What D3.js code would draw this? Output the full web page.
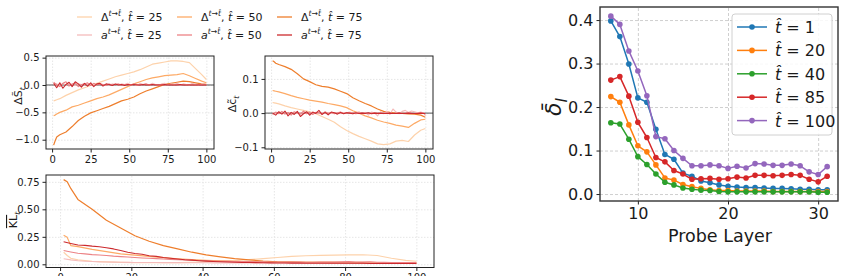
<!DOCTYPE html>
<html lang="en">
<head>
<meta charset="UTF-8" />
<title>Probe layers</title>
<script src="https://cdn.jsdelivr.net/npm/d3@7"></script>
<style>
  body { margin: 0; background: #fff; }
  svg { display: block; font-family: "DejaVu Sans", sans-serif; }
</style>
</head>
<body>
<div id="container"></div>
<script>
// ---- data ----
const stepsD = [1,2,3,5,9,13,17,21,25,29,33,37,41,45,49,53,57,61,65,69,73,77,81,85,89,93,97,100]
const stepsA = [1,3,5,7,9,11,13,15,17,19,21,23,25,27,29,31,33,35,37,39,41,43,45,47,49,
                51,53,55,57,59,61,63,65,67,69,71,73,75,77,79,81,83,85,87,89,91,93,95,97,99,100]

// delta S
const dS_D25 = [-0.29,-0.28,-0.27,-0.25,-0.19,-0.14,-0.09,-0.05,-0.01,0.03,0.07,0.11,0.15,0.18,0.21,0.24,0.28,0.33,0.38,0.40,0.42,0.44,0.44,0.43,0.41,0.30,0.19,0.10]
const dS_D50 = [-0.56,-0.55,-0.53,-0.50,-0.46,-0.40,-0.37,-0.33,-0.29,-0.25,-0.22,-0.18,-0.13,-0.08,-0.03,0.02,0.06,0.10,0.13,0.15,0.17,0.18,0.19,0.21,0.17,0.12,0.07,0.04]
const dS_D75 = [-1.10,-1.02,-0.95,-0.91,-0.86,-0.76,-0.65,-0.57,-0.51,-0.47,-0.43,-0.39,-0.34,-0.29,-0.26,-0.22,-0.16,-0.11,-0.07,-0.03,0.01,0.03,0.05,0.07,0.06,0.04,0.02,0.01]
const dS_A25 = [0.01,0.02,-0.01,0.03,0.00,0.02,0.01,-0.01,0.02,0.01,
                0.00,0.02,0.01,0.00,0.01,0.02,0.00,0.01,0.00,0.02,
                0.01,0.00,0.02,0.01,0.03,0.00,0.02,-0.01,0.03,0.01,
                0.02,0.00,0.03,0.01,-0.01,0.02,0.03,0.00,0.02,0.01,
                0.03,0.00,0.02,0.01,0.00,0.03,0.01,0.00,0.02,0.01,0.01]
const dS_A50 = [0.05,0.00,-0.03,0.03,0.06,-0.02,0.02,0.04,-0.03,0.01,
                0.02,0.04,-0.01,0.03,0.00,0.02,0.01,-0.01,0.02,0.00,
                0.01,0.02,0.00,0.01,0.01,0.00,0.02,0.01,0.00,0.01,
                0.02,0.00,0.01,0.01,0.00,0.01,0.00,0.01,0.01,0.00,
                0.01,0.00,0.01,0.00,0.01,0.00,0.00,0.01,0.00,0.01,0.00]
const dS_A75 = [0.03,-0.05,0.04,-0.06,0.01,0.05,-0.03,0.06,0.02,-0.04,
                0.03,-0.02,0.04,-0.03,0.02,0.03,-0.02,0.02,0.01,-0.01,
                0.02,0.00,0.01,-0.01,0.01,0.00,0.01,0.00,0.00,0.01,
                0.00,0.00,0.01,0.00,0.00,0.00,0.01,0.00,0.00,0.00,
                0.00,0.01,0.00,0.00,0.00,0.00,0.00,0.00,0.00,0.00,0.00]

// delta c
const dC_D25 = [0.031,0.030,0.029,0.027,0.021,0.016,0.012,0.008,0.004,-0.002,-0.010,-0.018,-0.027,-0.040,-0.051,-0.060,-0.068,-0.075,-0.082,-0.090,-0.092,-0.090,-0.082,-0.080,-0.083,-0.064,-0.050,-0.045]
const dC_D50 = [0.066,0.065,0.064,0.062,0.057,0.051,0.046,0.042,0.038,0.035,0.032,0.028,0.025,0.021,0.016,0.007,0.000,-0.008,-0.014,-0.021,-0.026,-0.030,-0.035,-0.038,-0.042,-0.030,-0.020,-0.018]
const dC_D75 = [0.153,0.150,0.146,0.142,0.136,0.128,0.115,0.100,0.092,0.083,0.078,0.076,0.071,0.064,0.057,0.045,0.036,0.028,0.021,0.012,0.005,0.002,0.000,-0.001,-0.002,-0.003,-0.006,-0.012]
const dC_A25 = [0.002,-0.001,0.001,0.000,-0.002,0.001,0.000,0.002,-0.001,0.000,
                0.001,-0.001,0.002,0.000,0.001,-0.002,0.001,0.000,0.002,-0.001,
                0.000,0.001,-0.001,0.002,0.000,0.003,-0.002,0.001,0.004,-0.003,
                0.002,-0.006,0.003,0.001,-0.008,0.004,-0.002,0.006,-0.004,0.012,
                0.003,-0.002,0.005,0.008,0.002,0.006,0.004,0.001,0.003,0.000,-0.008]
const dC_A50 = [-0.004,0.003,-0.002,0.005,-0.003,0.002,-0.006,0.004,0.000,-0.003,
                0.006,-0.002,0.003,-0.004,0.002,0.001,-0.003,0.004,-0.001,0.002,
                -0.002,0.001,0.003,-0.001,0.002,0.000,0.001,-0.002,0.001,0.000,
                0.001,-0.001,0.000,0.001,0.000,-0.001,0.000,0.001,0.000,-0.001,
                0.000,0.001,-0.001,0.000,0.001,0.000,-0.001,0.000,0.001,0.000,-0.003]
const dC_A75 = [0.000,-0.006,0.004,-0.003,0.006,-0.008,0.002,-0.004,0.005,-0.010,
                -0.002,0.004,-0.006,0.003,-0.001,0.008,-0.004,0.002,-0.005,0.003,
                0.001,-0.003,0.002,-0.002,0.001,0.000,-0.002,0.001,-0.001,0.000,
                -0.001,0.001,-0.002,0.000,-0.001,0.000,-0.001,-0.001,0.000,-0.001,
                -0.001,0.000,-0.001,-0.001,0.000,-0.001,-0.001,-0.001,0.000,-0.001,-0.002]

// KL
const kl_D25 = [0.11,0.08,0.055,0.04,0.028,0.022,0.018,0.016,0.015,0.015,0.016,0.018,0.022,0.027,0.033,0.042,0.052,0.062,0.072,0.078,0.082,0.084,0.085,0.087,0.080,0.055,0.035,0.028]
const kl_D50 = [0.265,0.245,0.17,0.16,0.135,0.115,0.095,0.083,0.072,0.060,0.050,0.042,0.036,0.031,0.026,0.023,0.021,0.020,0.020,0.019,0.019,0.019,0.018,0.018,0.016,0.015,0.014,0.013]
const kl_D75 = [0.77,0.75,0.69,0.59,0.50,0.40,0.33,0.26,0.21,0.17,0.14,0.11,0.085,0.068,0.052,0.040,0.030,0.023,0.019,0.016,0.014,0.013,0.012,0.011,0.011,0.010,0.010,0.010]
const kl_A25 = [0.050,0.040,0.032,0.028,0.025,0.022,0.021,0.020,0.019,0.018,
                0.017,0.017,0.016,0.016,0.015,0.015,0.015,0.014,0.014,0.014,
                0.014,0.013,0.013,0.013,0.013,0.013,0.013,0.012,0.012,0.012,
                0.012,0.012,0.012,0.012,0.012,0.012,0.012,0.012,0.012,0.012,
                0.012,0.012,0.012,0.012,0.012,0.011,0.011,0.011,0.011,0.011,0.011]
const kl_A50 = [0.125,0.112,0.100,0.095,0.088,0.085,0.080,0.074,0.070,0.066,
                0.062,0.058,0.055,0.052,0.048,0.045,0.042,0.040,0.037,0.034,
                0.032,0.030,0.028,0.027,0.026,0.025,0.024,0.023,0.022,0.021,
                0.021,0.020,0.020,0.020,0.019,0.019,0.020,0.021,0.020,0.022,
                0.024,0.021,0.020,0.023,0.019,0.018,0.017,0.016,0.015,0.015,0.015]
const kl_A75 = [0.205,0.190,0.175,0.172,0.165,0.160,0.150,0.140,0.125,0.110,
                0.098,0.092,0.078,0.072,0.062,0.055,0.048,0.042,0.038,0.033,
                0.029,0.026,0.023,0.021,0.019,0.017,0.016,0.015,0.014,0.013,
                0.012,0.012,0.011,0.011,0.010,0.010,0.010,0.010,0.009,0.009,
                0.009,0.009,0.009,0.008,0.008,0.008,0.008,0.008,0.008,0.008,0.008]

// probe layers (right)
const layers = [7,8,9,10,11,12,13,14,15,16,17,18,19,20,21,22,23,24,25,26,27,28,29,30,31]
const probeT1   = [0.398,0.362,0.299,0.221,0.211,0.149,0.091,0.080,0.048,0.041,0.030,0.026,0.021,0.018,0.016,0.015,0.015,0.014,0.013,0.013,0.012,0.011,0.011,0.010,0.010]
const probeT20  = [0.224,0.211,0.159,0.111,0.097,0.067,0.037,0.032,0.022,0.017,0.013,0.010,0.008,0.008,0.007,0.007,0.007,0.007,0.006,0.006,0.006,0.006,0.006,0.006,0.006]
const probeT40  = [0.164,0.161,0.126,0.086,0.068,0.046,0.027,0.021,0.014,0.011,0.009,0.008,0.006,0.005,0.005,0.005,0.005,0.005,0.005,0.005,0.005,0.005,0.005,0.004,0.004]
const probeT85  = [0.262,0.270,0.225,0.165,0.130,0.084,0.074,0.054,0.046,0.034,0.035,0.036,0.034,0.035,0.039,0.037,0.043,0.043,0.042,0.043,0.045,0.043,0.034,0.028,0.041]
const probeT100 = [0.409,0.390,0.329,0.283,0.226,0.132,0.127,0.100,0.082,0.065,0.065,0.067,0.065,0.059,0.064,0.060,0.070,0.069,0.066,0.066,0.069,0.065,0.051,0.045,0.063]
const probeNames = ['1','20','40','85','100']

// ---- drawing ----
const width = 846
const height = 276
const svg = d3.select('#container').append('svg')
  .attr('width', width).attr('height', height)
  .attr('viewBox', [0, 0, width, height])

const cD = ['#fdd2ab', '#fdaa66', '#ee7e2c']
const cA = ['#f5bcbc', '#ec8386', '#cc2a2e']

// text with italic/sup/sub pieces
function rich(parent, x, y, parts, size, anchor) {
  const t = parent.append('text').attr('x', x).attr('y', y)
    .attr('font-size', size).attr('fill', '#1a1a1a')
    .attr('text-anchor', anchor || 'start')
  let shift = 0
  parts.forEach(p => {
    const s = t.append('tspan').text(p.t)
    let want = 0
    if (p.sup) { want = -size * 0.42; s.attr('font-size', size * 0.7) }
    if (p.sub) { want = size * 0.25; s.attr('font-size', size * 0.7) }
    if (want !== shift) { s.attr('dy', want - shift); shift = want }
    if (p.i) s.attr('font-style', 'italic')
    if (p.over) s.attr('text-decoration', 'overline')
  })
  return t
}

function panel(cfg) {
  const g = svg.append('g')
  const x = d3.scaleLinear().domain(cfg.xDomain).range([cfg.left, cfg.right])
  const y = d3.scaleLinear().domain(cfg.yDomain).range([cfg.bottom, cfg.top])
  const h = cfg.bottom - cfg.top
  const w = cfg.right - cfg.left

  // grid
  g.append('g').attr('transform', `translate(0,${cfg.bottom})`)
    .call(d3.axisBottom(x).tickValues(cfg.xTicks).tickSize(-h).tickFormat(''))
    .call(a => a.select('.domain').remove())
    .call(a => a.selectAll('line').attr('stroke', cfg.gridColor).attr('stroke-dasharray', cfg.gridDash))
  g.append('g').attr('transform', `translate(${cfg.left},0)`)
    .call(d3.axisLeft(y).tickValues(cfg.yTicks).tickSize(-w).tickFormat(''))
    .call(a => a.select('.domain').remove())
    .call(a => a.selectAll('line').attr('stroke', cfg.gridColor).attr('stroke-dasharray', cfg.gridDash))

  if (cfg.zero) {
    g.append('line').attr('x1', cfg.left).attr('x2', cfg.right)
      .attr('y1', y(0)).attr('y2', y(0))
      .attr('stroke', '#555').attr('stroke-width', 1)
  }

  const line = d3.line().x(d => x(d[0])).y(d => y(d[1]))
  cfg.series.forEach(s => {
    const pts = s.xs.map((v, i) => [v, s.ys[i]])
    g.append('path').datum(pts).attr('d', line)
      .attr('fill', 'none').attr('stroke', s.color).attr('stroke-width', s.w || 1.1)
      .attr('stroke-linejoin', 'round')
    if (s.marker) {
      g.append('g').selectAll('circle').data(pts).join('circle')
        .attr('cx', d => x(d[0])).attr('cy', d => y(d[1])).attr('r', s.marker)
        .attr('fill', s.color)
    }
  })

  // axes
  const ax = g.append('g').attr('transform', `translate(0,${cfg.bottom})`)
    .call(d3.axisBottom(x).tickValues(cfg.xTicks).tickSize(3.5).tickPadding(3).tickFormat(cfg.xFmt))
  const ay = g.append('g').attr('transform', `translate(${cfg.left},0)`)
    .call(d3.axisLeft(y).tickValues(cfg.yTicks).tickSize(3.5).tickPadding(3).tickFormat(cfg.yFmt))
  ;[ax, ay].forEach(a => {
    a.attr('font-family', '"DejaVu Sans", sans-serif').attr('font-size', cfg.tickSize)
    a.select('.domain').remove()
    a.selectAll('line').attr('stroke', '#222')
    a.selectAll('text').attr('fill', '#1a1a1a')
  })

  g.append('rect').attr('x', cfg.left).attr('y', cfg.top).attr('width', w).attr('height', h)
    .attr('fill', 'none').attr('stroke', cfg.frame).attr('stroke-width', cfg.frameW)
  return g
}

function leftSeries(yd, ya) {
  const out = []
  yd.forEach((ys, i) => out.push({ xs: stepsD, ys, color: cD[i], w: 1.2 }))
  ya.forEach((ys, i) => out.push({ xs: stepsA, ys, color: cA[i], w: 1.1 }))
  return out
}

const leftCommon = {
  xDomain: [-3.95, 104.95], gridColor: '#e6e6e6', gridDash: '1.5,1.5',
  tickSize: 10, frame: '#222', frameW: 1
}

panel(Object.assign({}, leftCommon, {
  left: 46, right: 214, top: 56, bottom: 149,
  yDomain: [-1.17, 0.53], yTicks: [-1, -0.5, 0, 0.5], xTicks: [0, 25, 50, 75, 100],
  xFmt: d3.format('d'), yFmt: d3.format('.1f'), zero: true,
  series: leftSeries([dS_D25, dS_D50, dS_D75], [dS_A25, dS_A50, dS_A75])
}))

panel(Object.assign({}, leftCommon, {
  left: 265, right: 433, top: 56, bottom: 149,
  yDomain: [-0.105, 0.167], yTicks: [-0.1, 0, 0.1], xTicks: [0, 25, 50, 75, 100],
  xFmt: d3.format('d'), yFmt: d3.format('.1f'), zero: true,
  series: leftSeries([dC_D25, dC_D50, dC_D75], [dC_A25, dC_A50, dC_A75])
}))

panel(Object.assign({}, leftCommon, {
  left: 46, right: 434, top: 175, bottom: 267.5,
  yDomain: [-0.029, 0.812], yTicks: [0, 0.25, 0.5, 0.75], xTicks: [0, 20, 40, 60, 80, 100],
  xFmt: d3.format('d'), yFmt: d3.format('.2f'), zero: false,
  series: leftSeries([kl_D25, kl_D50, kl_D75], [kl_A25, kl_A50, kl_A75])
}))

const probeColors = ['#1f77b4', '#ff7f0e', '#2ca02c', '#d62728', '#9467bd']
const probeData = [probeT1, probeT20, probeT40, probeT85, probeT100]
panel({
  left: 600, right: 838, top: 7, bottom: 201,
  xDomain: [5.8, 32.2], yDomain: [-0.016, 0.43],
  xTicks: [10, 20, 30], yTicks: [0, 0.1, 0.2, 0.3, 0.4],
  xFmt: d3.format('d'), yFmt: d3.format('.1f'),
  gridColor: '#cfcfcf', gridDash: '3,2', tickSize: 16, frame: '#333', frameW: 1.4,
  series: probeData.map((ys, i) => ({ xs: layers, ys, color: probeColors[i], w: 1.5, marker: 2.8 }))
})

// axis labels
rich(svg.append('g').attr('transform', 'translate(22,96) rotate(-90)'), 0, 0,
  [{ t: 'ΔS\u0303' }, { t: 't', sub: 1, i: 1 }], 11, 'middle')
rich(svg.append('g').attr('transform', 'translate(236,104) rotate(-90)'), 0, 0,
  [{ t: 'Δc\u0303' }, { t: 't', sub: 1, i: 1 }], 11, 'middle')
rich(svg.append('g').attr('transform', 'translate(17,220) rotate(-90)'), 0, 0,
  [{ t: 'KL', over: 1 }, { t: 't', sub: 1, i: 1 }], 11, 'middle')
rich(svg.append('g').attr('transform', 'translate(561,107) rotate(-90)'), 0, 0,
  [{ t: 'δ\u0304', i: 1 }, { t: 'l', sub: 1, i: 1 }], 22, 'middle')
svg.append('text').attr('x', 720).attr('y', 242).attr('text-anchor', 'middle')
  .attr('font-size', 17.5).attr('fill', '#1a1a1a').text('Probe Layer')

// left legend
const legT = ['25', '50', '75']
const legCols = [77, 177, 277]
legT.forEach((tv, i) => {
  ;[[cD[i], 'Δ', 17], [cA[i], 'a', 35]].forEach(([col, sym, yy]) => {
    svg.append('line').attr('x1', legCols[i]).attr('x2', legCols[i] + 15)
      .attr('y1', yy).attr('y2', yy).attr('stroke', col).attr('stroke-width', 1.3)
    rich(svg, legCols[i] + 24, yy + 4, [
      { t: sym, i: sym === 'a' }, { t: 't→t\u0302', sup: 1, i: 1 },
      { t: ', ' }, { t: 't\u0302', i: 1 }, { t: ' = ' + tv }
    ], 11)
  })
})

// right legend
const rl = svg.append('g')
rl.append('rect').attr('x', 732).attr('y', 14).attr('width', 100).attr('height', 121)
  .attr('rx', 3).attr('fill', 'white').attr('fill-opacity', 0.85)
  .attr('stroke', '#d0d0d0')
probeNames.forEach((n, i) => {
  const yy = 27 + i * 23.4
  rl.append('line').attr('x1', 737).attr('x2', 767).attr('y1', yy).attr('y2', yy)
    .attr('stroke', probeColors[i]).attr('stroke-width', 1.5)
  rl.append('circle').attr('cx', 752).attr('cy', yy).attr('r', 2.8).attr('fill', probeColors[i])
  rich(rl, 775, yy + 6, [{ t: 't\u0302', i: 1 }, { t: ' = ' + n }], 16)
})
</script>
</body>
</html>
